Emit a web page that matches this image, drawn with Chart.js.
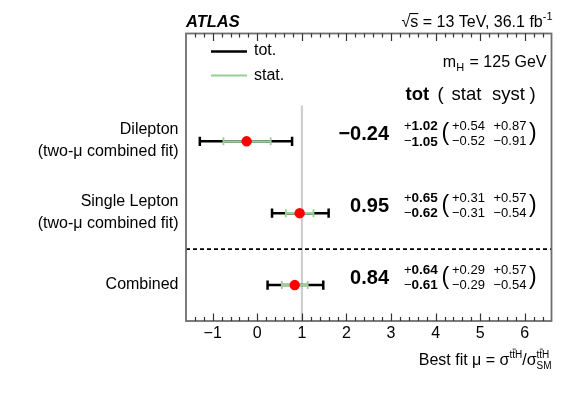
<!DOCTYPE html>
<html>
<head>
<meta charset="utf-8">
<script src="https://cdn.jsdelivr.net/npm/chart.js@4/dist/chart.umd.min.js"></script>
<style>
html,body{margin:0;padding:0;background:#fff;}
canvas{display:block;}
</style>
</head>
<body>
<canvas id="c" width="581" height="394"></canvas>
<script>
// ---- data ----
const categories = ['Dilepton', 'Single Lepton', 'Combined'];
const subLabels = ['(two-\u03bc combined fit)', '(two-\u03bc combined fit)', ''];
const rowY = [5, 3, 1];
const mu = [-0.24, 0.95, 0.84];
const totUp = [1.02, 0.65, 0.64];
const totDn = [1.05, 0.62, 0.61];
const statUp = [0.54, 0.31, 0.29];
const statDn = [0.52, 0.31, 0.29];
const systUp = [0.87, 0.57, 0.57];
const systDn = [0.91, 0.54, 0.54];
const xTicks = [-1, 0, 1, 2, 3, 4, 5, 6];
const xMin = -1.6, xMax = 6.6, yMin = 0, yMax = 8;
const smValue = 1, smTop = 6, separatorY = 2;

const FONT = '"Liberation Sans", Arial, Helvetica, sans-serif';
const GREEN = '#97d097';
const FRAME = '#6e6e6e';

function fmt(v, sign) {
  const s = Math.abs(v).toFixed(2);
  if (v < 0) return '\u2212' + s;
  return sign ? '+' + s : s;
}

const datasets = [];
// central values
datasets.push({
  type: 'scatter', order: 0,
  data: mu.map((m, i) => ({x: m, y: rowY[i]})),
  pointRadius: 5.2, pointHoverRadius: 5.2, backgroundColor: '#ff0000', borderWidth: 0, pointBorderWidth: 0
});
// stat bars
mu.forEach((m, i) => datasets.push({
  type: 'line', order: 1,
  data: [{x: m - statDn[i], y: rowY[i]}, {x: m + statUp[i], y: rowY[i]}],
  borderColor: GREEN, borderWidth: 2.2,
  pointStyle: 'line', pointRotation: 90, pointRadius: 4, pointHoverRadius: 4,
  pointBorderColor: GREEN, pointBorderWidth: 1.8
}));
// total bars
mu.forEach((m, i) => datasets.push({
  type: 'line', order: 2,
  data: [{x: m - totDn[i], y: rowY[i]}, {x: m + totUp[i], y: rowY[i]}],
  borderColor: '#000', borderWidth: 2.5,
  pointStyle: 'line', pointRotation: 90, pointRadius: 4.6, pointHoverRadius: 4.6,
  pointBorderColor: '#000', pointBorderWidth: 2.5
}));
// separator
datasets.push({
  type: 'line', order: 3,
  data: [{x: xMin, y: separatorY}, {x: xMax, y: separatorY}],
  borderColor: '#000', borderWidth: 1.6, borderDash: [4, 3], pointRadius: 0
});
// SM line
datasets.push({
  type: 'line', order: 4,
  data: [{x: smValue, y: yMin}, {x: smValue, y: smTop}],
  borderColor: '#cccccc', borderWidth: 2, pointRadius: 0
});

function drawPieces(ctx, pieces, xRight, baseline) {
  // pieces: {t, font, dy, w?} ; returns nothing; right aligned
  let total = 0;
  pieces.forEach(p => { ctx.font = p.font; p.w = p.stack ? Math.max(...p.stack.map(s => { ctx.font = s.font; return ctx.measureText(s.t).width; })) : ctx.measureText(p.t).width; total += p.w + (p.gap || 0); });
  let x = xRight - total;
  ctx.textAlign = 'left'; ctx.textBaseline = 'alphabetic';
  pieces.forEach(p => {
    if (p.stack) {
      p.stack.forEach(s => { ctx.font = s.font; ctx.fillText(s.t, x, baseline + s.dy); if (s.bar) s.bar(x, baseline + s.dy); });
    } else {
      ctx.font = p.font; ctx.fillText(p.t, x, baseline + (p.dy || 0));
      if (p.bar) p.bar(x, baseline + (p.dy || 0));
    }
    x += p.w + (p.gap || 0);
  });
}

const decor = {
  id: 'decor',
  afterDatasetsDraw(chart) {
    const ctx = chart.ctx, a = chart.chartArea;
    const xs = chart.scales.x, ys = chart.scales.y;
    ctx.save();
    // frame
    ctx.strokeStyle = FRAME; ctx.lineWidth = 1.8;
    ctx.strokeRect(a.left, a.top, a.right - a.left, a.bottom - a.top);
    // ticks (inward, top and bottom)
    ctx.lineWidth = 1.2; ctx.strokeStyle = '#333';
    for (let k = -8; k <= 33; k++) {
      const v = k * 0.2;
      if (v <= xMin + 1e-6 || v >= xMax - 1e-6) continue;
      const px = Math.round(xs.getPixelForValue(v)) + 0.5;
      const major = Math.abs(v - Math.round(v)) < 1e-6;
      const len = major ? 7.5 : 4;
      ctx.beginPath();
      ctx.moveTo(px, a.bottom); ctx.lineTo(px, a.bottom - len);
      ctx.moveTo(px, a.top); ctx.lineTo(px, a.top + len);
      ctx.stroke();
    }
    ctx.fillStyle = '#000';
    // left category labels
    ctx.textAlign = 'right'; ctx.textBaseline = 'middle';
    ctx.font = '16px ' + FONT;
    categories.forEach((c, i) => {
      const py = ys.getPixelForValue(rowY[i]);
      if (subLabels[i]) {
        ctx.fillText(c, 178.5, py - 11.5);
        ctx.fillText(subLabels[i], 178.5, py + 10);
      } else {
        ctx.fillText(c, 178.5, py);
      }
    });
    // value annotations
    categories.forEach((c, i) => {
      const py = ys.getPixelForValue(rowY[i]);
      ctx.textAlign = 'right'; ctx.textBaseline = 'middle';
      ctx.font = 'bold 20px ' + FONT;
      ctx.fillText(fmt(mu[i]), 389, py - 6.5);
      // tot up/down
      ctx.textAlign = 'left';
      const pairs = [[totUp[i], totDn[i], 404, true], [statUp[i], statDn[i], 452, false], [systUp[i], systDn[i], 493.5, false]];
      pairs.forEach(([u, d, x, bold]) => {
        ctx.font = '13px ' + FONT;
        const wp = ctx.measureText('+').width, wm = ctx.measureText('\u2212').width;
        if (bold) {
          ctx.fillText('+', x, py - 15);
          ctx.fillText('\u2212', x, py + 0.5);
          ctx.font = 'bold 13.5px ' + FONT;
          ctx.fillText(u.toFixed(2), x + wp, py - 15);
          ctx.fillText(d.toFixed(2), x + wm, py + 0.5);
        } else {
          ctx.fillText('+' + u.toFixed(2), x, py - 15);
          ctx.fillText('\u2212' + d.toFixed(2), x, py + 0.5);
        }
      });
      ctx.font = '23px ' + FONT;
      ctx.fillText('(', 441.5, py - 7.5);
      ctx.fillText(')', 529, py - 7.5);
    });
    // legend
    ctx.lineWidth = 2.5; ctx.strokeStyle = '#000';
    ctx.beginPath(); ctx.moveTo(211, 51.5); ctx.lineTo(247, 51.5); ctx.stroke();
    ctx.strokeStyle = GREEN; ctx.lineWidth = 2.2;
    ctx.beginPath(); ctx.moveTo(211, 75.5); ctx.lineTo(247, 75.5); ctx.stroke();
    ctx.font = '16px ' + FONT; ctx.textAlign = 'left'; ctx.textBaseline = 'middle';
    ctx.fillText('tot.', 254, 51);
    ctx.fillText('stat.', 254, 75.5);
    // header
    ctx.textBaseline = 'alphabetic';
    ctx.font = 'italic bold 16.5px ' + FONT;
    ctx.fillText('ATLAS', 186, 26.5);
    drawPieces(ctx, [
      {t: '\u221a', font: '16px ' + FONT},
      {t: 's', font: '16px ' + FONT, bar: (x, b) => { ctx.fillRect(x - 1, b - 13.5, 9, 1.1); }},
      {t: ' = 13 TeV, 36.1 fb', font: '16px ' + FONT},
      {t: '-1', font: '11px ' + FONT, dy: -7}
    ], 552.5, 26.5);
    // mH
    drawPieces(ctx, [
      {t: 'm', font: '16px ' + FONT},
      {t: 'H', font: '11px ' + FONT, dy: 4, gap: 1},
      {t: ' = 125 GeV', font: '16px ' + FONT}
    ], 546.5, 66.5);
    // tot (stat syst)
    ctx.textAlign = 'left';
    ctx.font = 'bold 18.5px ' + FONT;
    ctx.fillText('tot', 405.5, 99.5);
    ctx.font = '18.5px ' + FONT;
    ctx.fillText('(', 437.5, 99.5);
    ctx.fillText('stat', 451.5, 99.5);
    ctx.fillText('syst', 492, 99.5);
    ctx.fillText(')', 529.5, 99.5);
    // x-axis title
    const ov = (x, b) => { ctx.fillRect(x + 3.2, b - 9.3, 3.2, 0.8); };
    drawPieces(ctx, [
      {t: 'Best fit \u03bc = \u03c3', font: '16px ' + FONT},
      {t: 'tt\u2009H'.replace('\u2009', ''), font: '10px ' + FONT, dy: -7, bar: (x, b) => ov(x, b)},
      {t: '/\u03c3', font: '16px ' + FONT},
      {stack: [
        {t: 'ttH', font: '10px ' + FONT, dy: -7, bar: (x, b) => ov(x, b)},
        {t: 'SM', font: '10px ' + FONT, dy: 4}
      ]}
    ], 551.5, 365);
    ctx.restore();
  }
};

new Chart(document.getElementById('c'), {
  data: {datasets},
  options: {
    responsive: false, animation: false,
    layout: {padding: {left: 186, right: 29.5, top: 33.5, bottom: 0}},
    plugins: {legend: {display: false}, tooltip: {enabled: false}},
    scales: {
      x: {
        type: 'linear', position: 'bottom', min: xMin, max: xMax,
        grid: {display: false, drawTicks: false}, border: {display: false},
        afterBuildTicks: s => { s.ticks = xTicks.map(v => ({value: v})); },
        afterFit: s => { s.height = 73; },
        ticks: {
          padding: 3, color: '#000', font: {family: FONT, size: 16},
          maxRotation: 0, autoSkip: false,
          callback: v => (v < 0 ? '\u2212' + Math.abs(v) : String(v))
        }
      },
      y: {type: 'linear', min: yMin, max: yMax, display: false}
    }
  },
  plugins: [decor]
});
</script>
</body>
</html>
